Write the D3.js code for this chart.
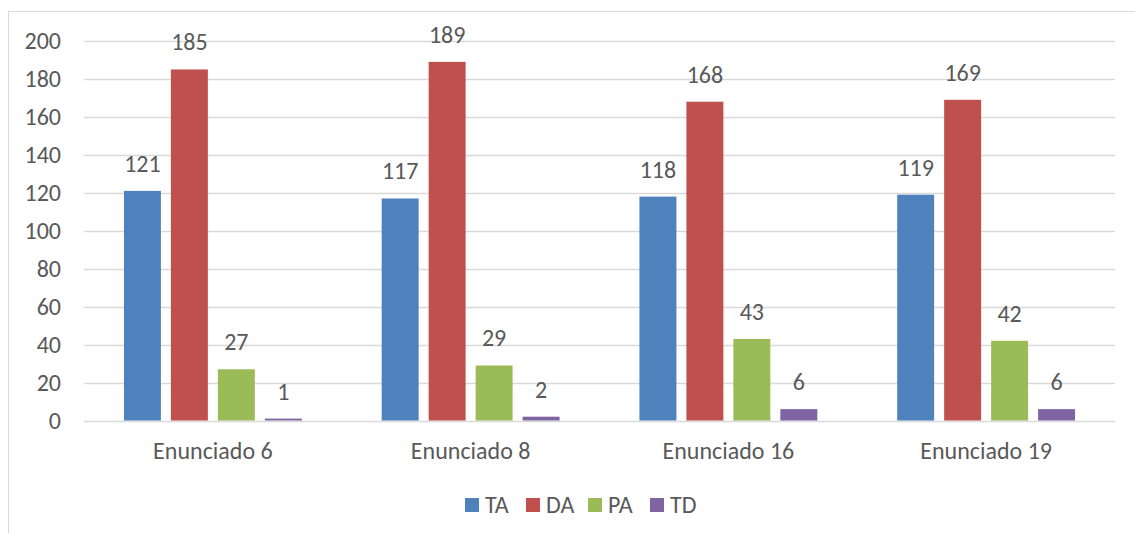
<!DOCTYPE html>
<html>
<head>
<meta charset="utf-8">
<script src="https://cdnjs.cloudflare.com/ajax/libs/d3/7.8.5/d3.min.js"></script>
<style>
  body { margin: 0; background: #fff; }
  text { font-family: Carlito, Calibri, "Open Sans", sans-serif; fill: #595959; }
</style>
</head>
<body>
<script>
// chart values
var categories = ['Enunciado 6', 'Enunciado 8', 'Enunciado 16', 'Enunciado 19'];
var seriesNames = ['TA', 'DA', 'PA', 'TD'];
var TA = [121, 117, 118, 119];
var DA = [185, 189, 168, 169];
var PA = [27, 29, 43, 42];
var TD = [1, 2, 6, 6];
var yTicks = [0, 20, 40, 60, 80, 100, 120, 140, 160, 180, 200];
var colors = ['#4F81BD', '#C0504D', '#9BBB59', '#8064A2'];

var seriesValues = [TA, DA, PA, TD];

var width = 1135, height = 533;
var svg = d3.select('body').append('svg')
    .attr('width', width)
    .attr('height', height);

// outer chart border
svg.append('rect')
    .attr('x', 8.5).attr('y', 11.5)
    .attr('width', 1200).attr('height', 600)
    .attr('fill', 'none')
    .attr('stroke', '#d9d9d9')
    .attr('stroke-width', 1);

var plotLeft = 84, plotRight = 1115, plotTop = 41, plotBottom = 420.5;

var y = d3.scaleLinear().domain([0, 200]).range([plotBottom, plotTop]);
var x0 = d3.scaleBand().domain(categories).range([plotLeft, plotRight]).padding(0);
var x1 = d3.scaleBand().domain(seriesNames).range([0, x0.bandwidth()])
    .paddingInner(0.213).paddingOuter(0.85);

// gridlines
svg.append('g').selectAll('line').data(yTicks).enter().append('line')
    .attr('x1', plotLeft).attr('x2', plotRight)
    .attr('y1', function(d) { return Math.round(y(d)) + 0.5; })
    .attr('y2', function(d) { return Math.round(y(d)) + 0.5; })
    .attr('stroke', '#d9d9d9')
    .attr('stroke-width', 1.5);

// y axis labels
svg.append('g').selectAll('text').data(yTicks).enter().append('text')
    .attr('x', 61)
    .attr('y', function(d) { return y(d); })
    .attr('dy', '0.35em')
    .attr('text-anchor', 'end')
    .style('font-size', '24px')
    .text(function(d) { return d; });

// bars
var groups = svg.append('g').selectAll('g').data(categories).enter().append('g')
    .attr('transform', function(d) { return 'translate(' + x0(d) + ',0)'; });

groups.each(function(cat, ci) {
    var g = d3.select(this);
    seriesNames.forEach(function(s, si) {
        var v = seriesValues[si][ci];
        g.append('rect')
            .attr('x', x1(s))
            .attr('y', y(v))
            .attr('width', x1.bandwidth())
            .attr('height', plotBottom - y(v))
            .attr('fill', colors[si]);
        g.append('text')
            .attr('x', x1(s) + x1.bandwidth() / 2)
            .attr('y', y(v) - 19)
            .attr('text-anchor', 'middle')
            .style('font-size', '24px')
            .text(v);
    });
});

// category labels
svg.append('g').selectAll('text').data(categories).enter().append('text')
    .attr('x', function(d) { return x0(d) + x0.bandwidth() / 2; })
    .attr('y', 451)
    .attr('dy', '0.35em')
    .attr('text-anchor', 'middle')
    .style('font-size', '24px')
    .text(function(d) { return d; });

// legend
var legendX = [465, 526, 588, 650];
var legend = svg.append('g').selectAll('g').data(seriesNames).enter().append('g')
    .attr('transform', function(d, i) { return 'translate(' + legendX[i] + ',498)'; });
legend.append('rect')
    .attr('width', 14).attr('height', 14)
    .attr('fill', function(d, i) { return colors[i]; });
legend.append('text')
    .attr('x', 20).attr('y', 7)
    .attr('dy', '0.35em')
    .style('font-size', '24px')
    .text(function(d) { return d; });
</script>
</body>
</html>
